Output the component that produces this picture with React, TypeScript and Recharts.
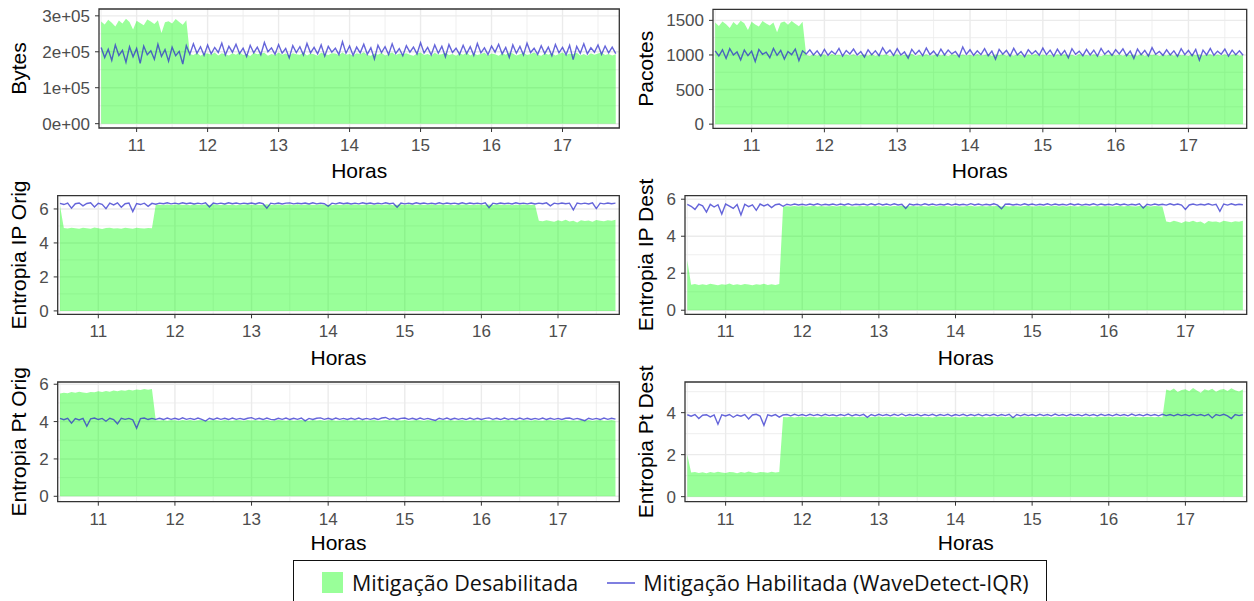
import React from 'react';
import {
  ComposedChart,
  Area,
  Line,
  XAxis,
  YAxis,
  CartesianGrid,
  ReferenceArea,
  Label,
} from 'recharts';

// Time axis, in hours of the day (one sample every 3 minutes)
const hours = [
  10.5, 10.55, 10.6, 10.65, 10.7, 10.75, 10.8, 10.85, 10.9, 10.95,
  11, 11.05, 11.1, 11.15, 11.2, 11.25, 11.3, 11.35, 11.4, 11.45,
  11.5, 11.55, 11.6, 11.65, 11.7, 11.75, 11.8, 11.85, 11.9, 11.95,
  12, 12.05, 12.1, 12.15, 12.2, 12.25, 12.3, 12.35, 12.4, 12.45,
  12.5, 12.55, 12.6, 12.65, 12.7, 12.75, 12.8, 12.85, 12.9, 12.95,
  13, 13.05, 13.1, 13.15, 13.2, 13.25, 13.3, 13.35, 13.4, 13.45,
  13.5, 13.55, 13.6, 13.65, 13.7, 13.75, 13.8, 13.85, 13.9, 13.95,
  14, 14.05, 14.1, 14.15, 14.2, 14.25, 14.3, 14.35, 14.4, 14.45,
  14.5, 14.55, 14.6, 14.65, 14.7, 14.75, 14.8, 14.85, 14.9, 14.95,
  15, 15.05, 15.1, 15.15, 15.2, 15.25, 15.3, 15.35, 15.4, 15.45,
  15.5, 15.55, 15.6, 15.65, 15.7, 15.75, 15.8, 15.85, 15.9, 15.95,
  16, 16.05, 16.1, 16.15, 16.2, 16.25, 16.3, 16.35, 16.4, 16.45,
  16.5, 16.55, 16.6, 16.65, 16.7, 16.75, 16.8, 16.85, 16.9, 16.95,
  17, 17.05, 17.1, 17.15, 17.2, 17.25, 17.3, 17.35, 17.4, 17.45,
  17.5, 17.55, 17.6, 17.65, 17.7, 17.75,
];

const hourTicks = [11, 12, 13, 14, 15, 16, 17];
const hourMinor = [10.5, 11.5, 12.5, 13.5, 14.5, 15.5, 16.5, 17.5];
const hourDomain: [number, number] = [10.47, 17.8];

// Bytes
const bytesOff = [
  284000, 276000, 289000, 281000, 270000, 287000, 279000, 292000, 283000, 262000,
  286000, 280000, 274000, 290000, 284000, 277000, 288000, 252000, 282000, 285000,
  279000, 291000, 283000, 275000, 288000, 194000, 191000, 197000, 189000, 195000,
  195000, 192000, 198000, 190000, 196000, 193000, 190000, 196000, 192000, 199000,
  191000, 194000, 188000, 197000, 193000, 195000, 197000, 189000, 194000, 191000,
  198000, 192000, 195000, 190000, 196000, 193000, 192000, 198000, 190000, 195000,
  193000, 189000, 197000, 194000, 191000, 196000, 195000, 191000, 198000, 192000,
  194000, 190000, 196000, 193000, 199000, 191000, 189000, 195000, 192000, 197000,
  190000, 194000, 198000, 191000, 195000, 193000, 196000, 192000, 189000, 195000,
  198000, 191000, 194000, 190000, 197000, 192000, 193000, 197000, 191000, 194000,
  189000, 196000, 192000, 198000, 190000, 195000, 191000, 194000, 197000, 190000,
  195000, 193000, 189000, 196000, 192000, 198000, 195000, 190000, 193000, 197000,
  191000, 194000, 198000, 192000, 189000, 196000, 192000, 196000, 190000, 194000,
  198000, 191000, 195000, 193000, 197000, 190000, 194000, 189000, 196000, 192000,
  195000, 198000, 191000, 194000, 190000, 193000,
];
const bytesOn = [
  212000, 184000, 207000, 176000, 219000, 190000, 204000, 171000, 214000, 186000,
  209000, 168000, 216000, 192000, 203000, 179000, 221000, 187000, 206000, 174000,
  213000, 189000, 201000, 166000, 217000, 193000, 222000, 196000, 214000, 190000,
  219000, 194000, 212000, 198000, 224000, 191000, 215000, 199000, 221000, 195000,
  210000, 187000, 218000, 197000, 213000, 192000, 226000, 200000, 211000, 193000,
  220000, 196000, 209000, 183000, 217000, 198000, 214000, 191000, 223000, 197000,
  212000, 194000, 219000, 188000, 215000, 199000, 210000, 192000, 228000, 196000,
  216000, 190000, 213000, 197000, 221000, 193000, 211000, 180000, 218000, 198000,
  214000, 192000, 222000, 195000, 209000, 189000, 217000, 199000, 213000, 194000,
  225000, 197000, 212000, 191000, 219000, 196000, 215000, 186000, 220000, 198000,
  210000, 193000, 218000, 195000, 214000, 190000, 223000, 197000, 211000, 192000,
  216000, 199000, 221000, 194000, 212000, 184000, 219000, 196000, 215000, 191000,
  224000, 198000, 210000, 193000, 217000, 195000, 213000, 189000, 220000, 197000,
  212000, 192000, 218000, 178000, 215000, 196000, 222000, 194000, 211000, 199000,
  219000, 193000, 216000, 197000, 213000, 195000,
];
const bytesTicks = [0, 100000, 200000, 300000];
const bytesMinor = [50000, 150000, 250000];

// Pacotes
const pktOff = [
  1470, 1420, 1485, 1445, 1390, 1475, 1430, 1495, 1460, 1360,
  1480, 1440, 1410, 1490, 1455, 1425, 1470, 1330, 1465, 1485,
  1435, 1490, 1450, 1415, 1480, 1000, 985, 1010, 990, 1005,
  1005, 980, 1015, 995, 1002, 988, 1008, 992, 1012, 984,
  998, 1006, 990, 1014, 986, 1003, 995, 1010, 982, 1000,
  1012, 989, 1004, 996, 1016, 985, 1001, 993, 1009, 987,
  997, 1013, 991, 1005, 983, 1011, 999, 988, 1007, 994,
  1003, 986, 1015, 992, 1000, 1010, 984, 1006, 996, 1013,
  990, 1004, 987, 1011, 998, 982, 1008, 995, 1014, 989,
  1006, 993, 1002, 985, 1012, 997, 1009, 991, 1004, 986,
  1015, 994, 1001, 988, 1010, 996, 983, 1007, 999, 1013,
  992, 1005, 987, 1011, 995, 1003, 990, 1016, 984, 1008,
  998, 1010, 986, 1004, 993, 1012, 989, 1006, 997, 1001,
  985, 1014, 996, 1008, 991, 1003, 1011, 988, 1005, 994,
  1009, 987, 1002, 1013, 990, 1000,
];
const pktOn = [
  1060, 985, 1075, 950, 1090, 1000, 1045, 930, 1070, 990,
  1055, 905, 1080, 1010, 1040, 960, 1095, 995, 1065, 940,
  1050, 1005, 1085, 920, 1060, 1015, 1075, 1000, 1060, 985,
  1080, 995, 1055, 1010, 1095, 985, 1065, 1015, 1085, 1000,
  1050, 970, 1075, 1005, 1060, 990, 1105, 1020, 1070, 995,
  1090, 1000, 1045, 955, 1080, 1010, 1065, 990, 1100, 1005,
  1055, 985, 1085, 1000, 1070, 1015, 1050, 975, 1115, 1010,
  1075, 995, 1060, 1005, 1090, 990, 1055, 940, 1080, 1010,
  1065, 985, 1095, 1000, 1050, 975, 1075, 1015, 1060, 995,
  1100, 1005, 1070, 985, 1085, 1000, 1065, 960, 1090, 1010,
  1055, 990, 1080, 1000, 1070, 985, 1095, 1010, 1060, 995,
  1075, 1015, 1090, 990, 1055, 950, 1085, 1005, 1065, 985,
  1105, 1010, 1050, 995, 1075, 1000, 1060, 980, 1090, 1005,
  1065, 990, 1080, 925, 1070, 1000, 1095, 995, 1055, 1010,
  1085, 985, 1070, 1005, 1060, 995,
];
const pktTicks = [0, 500, 1000, 1500];
const pktMinor = [250, 750, 1250];

// Entropia IP de origem
const ipOrigOff = [
  6.2, 4.88, 4.85, 4.9, 4.86, 4.83, 4.89, 4.87, 4.84, 4.91,
  4.86, 4.82, 4.88, 4.9, 4.85, 4.87, 4.83, 4.89, 4.86, 4.84,
  4.9, 4.87, 4.85, 4.88, 4.86, 6.25, 6.25, 6.24, 6.26, 6.23,
  6.25, 6.27, 6.24, 6.25, 6.22, 6.26, 6.25, 6.23, 6.26, 6.24,
  6.27, 6.25, 6.23, 6.26, 6.24, 6.25, 6.22, 6.26, 6.25, 6.27,
  6.24, 6.26, 6.23, 6.25, 6.27, 6.24, 6.25, 6.26, 6.22, 6.25,
  6.26, 6.24, 6.27, 6.23, 6.25, 6.26, 6.24, 6.25, 6.27, 6.23,
  6.25, 6.22, 6.26, 6.24, 6.25, 6.27, 6.23, 6.26, 6.25, 6.24,
  6.26, 6.25, 6.23, 6.27, 6.24, 6.25, 6.26, 6.22, 6.25, 6.26,
  6.24, 6.27, 6.25, 6.23, 6.26, 6.24, 6.25, 6.27, 6.23, 6.25,
  6.26, 6.24, 6.25, 6.22, 6.26, 6.25, 6.27, 6.24, 6.23, 6.26,
  6.25, 6.23, 6.26, 6.24, 6.27, 6.25, 6.24, 6.26, 6.22, 6.25,
  6.24, 6.26, 6.25, 6.23, 6.25, 5.3, 5.27, 5.34, 5.29, 5.24,
  5.33, 5.28, 5.36, 5.26, 5.31, 5.21, 5.34, 5.29, 5.32, 5.25,
  5.35, 5.3, 5.27, 5.33, 5.31, 5.36,
];
const ipOrigOn = [
  6.33, 6.26, 6.34, 6.05, 6.31, 6.35, 6.18, 6.32, 6.36, 6.12,
  6.33, 6.27, 6.02, 6.34, 6.24, 6.36, 6.1, 6.31, 6.35, 5.85,
  6.32, 6.26, 6.34, 6.15, 6.33, 6.28, 6.34, 6.31, 6.36, 6.3,
  6.34, 6.3, 6.36, 6.31, 6.35, 6.29, 6.34, 6.3, 6.36, 6.12,
  6.35, 6.3, 6.34, 6.29, 6.36, 6.31, 6.35, 6.3, 6.34, 6.31,
  6.35, 6.29, 6.36, 6.31, 6.05, 6.34, 6.3, 6.35, 6.29, 6.34,
  6.36, 6.3, 6.34, 6.31, 6.35, 6.29, 6.36, 6.3, 6.34, 6.31,
  6.16, 6.34, 6.3, 6.36, 6.31, 6.35, 6.29, 6.34, 6.3, 6.36,
  6.31, 6.35, 6.29, 6.34, 6.3, 6.36, 6.31, 6.34, 6.1, 6.35,
  6.3, 6.34, 6.29, 6.36, 6.31, 6.35, 6.3, 6.34, 6.29, 6.36,
  6.3, 6.35, 6.31, 6.34, 6.29, 6.36, 6.3, 6.35, 6.31, 6.34,
  6.3, 6.36, 6.08, 6.34, 6.3, 6.35, 6.31, 6.34, 6.29, 6.36,
  6.31, 6.34, 6.3, 6.35, 6.29, 6.34, 6.31, 6.36, 6.18, 6.34,
  6.3, 6.35, 6.31, 6.34, 5.95, 6.35, 6.3, 6.34, 6.29, 6.36,
  6.02, 6.34, 6.3, 6.35, 6.31, 6.34,
];

// Entropia IP de destino
const ipDestOff = [
  2.7, 1.38, 1.42, 1.36, 1.4, 1.37, 1.43, 1.39, 1.35, 1.41,
  1.38, 1.44, 1.36, 1.4, 1.37, 1.42, 1.39, 1.35, 1.41, 1.38,
  1.43, 1.37, 1.4, 1.36, 1.42, 5.61, 5.62, 5.6, 5.63, 5.61,
  5.64, 5.6, 5.62, 5.65, 5.61, 5.63, 5.6, 5.62, 5.64, 5.61,
  5.63, 5.65, 5.61, 5.62, 5.6, 5.64, 5.62, 5.63, 5.61, 5.65,
  5.62, 5.6, 5.64, 5.61, 5.63, 5.62, 5.65, 5.6, 5.62, 5.64,
  5.61, 5.63, 5.62, 5.6, 5.65, 5.61, 5.63, 5.64, 5.62, 5.6,
  5.64, 5.62, 5.61, 5.63, 5.65, 5.6, 5.62, 5.64, 5.61, 5.63,
  5.62, 5.65, 5.6, 5.63, 5.61, 5.64, 5.62, 5.6, 5.63, 5.65,
  5.61, 5.62, 5.64, 5.6, 5.63, 5.62, 5.65, 5.61, 5.63, 5.6,
  5.64, 5.62, 5.61, 5.65, 5.63, 5.6, 5.62, 5.64, 5.61, 5.63,
  5.62, 5.6, 5.64, 5.63, 5.61, 5.65, 5.62, 5.6, 5.63, 5.62,
  5.64, 5.61, 5.63, 5.62, 5.6, 4.8, 4.76, 4.83, 4.78, 4.72,
  4.81, 4.77, 4.84, 4.75, 4.79, 4.68, 4.82, 4.78, 4.8, 4.74,
  4.83, 4.79, 4.76, 4.81, 4.78, 4.84,
];
const ipDestOn = [
  5.72, 5.62, 5.45, 5.73, 5.64, 5.3, 5.72, 5.58, 5.7, 5.2,
  5.74, 5.63, 5.5, 5.71, 5.15, 5.73, 5.6, 5.69, 5.4, 5.74,
  5.64, 5.72, 5.55, 5.7, 5.74, 5.62, 5.73, 5.68, 5.74, 5.69,
  5.73, 5.68, 5.74, 5.69, 5.75, 5.68, 5.73, 5.69, 5.74, 5.68,
  5.74, 5.69, 5.75, 5.68, 5.73, 5.7, 5.74, 5.68, 5.75, 5.69,
  5.76, 5.69, 5.74, 5.68, 5.75, 5.69, 5.73, 5.5, 5.74, 5.69,
  5.73, 5.68, 5.75, 5.69, 5.74, 5.68, 5.73, 5.69, 5.75, 5.68,
  5.74, 5.69, 5.73, 5.68, 5.76, 5.69, 5.74, 5.68, 5.73, 5.69,
  5.75, 5.68, 5.48, 5.73, 5.74, 5.69, 5.73, 5.68, 5.75, 5.69,
  5.74, 5.68, 5.73, 5.69, 5.75, 5.68, 5.74, 5.69, 5.73, 5.68,
  5.75, 5.69, 5.74, 5.68, 5.73, 5.69, 5.75, 5.68, 5.74, 5.69,
  5.73, 5.68, 5.75, 5.69, 5.74, 5.68, 5.73, 5.69, 5.75, 5.52,
  5.73, 5.68, 5.74, 5.69, 5.73, 5.68, 5.75, 5.69, 5.74, 5.68,
  5.45, 5.69, 5.74, 5.68, 5.73, 5.69, 5.75, 5.68, 5.73, 5.35,
  5.74, 5.68, 5.75, 5.69, 5.73, 5.7,
];

// Entropia porta de origem
const ptOrigOff = [
  5.5, 5.55, 5.52, 5.58, 5.54, 5.6, 5.56, 5.53, 5.59, 5.57,
  5.62, 5.58, 5.64, 5.6, 5.66, 5.63, 5.68, 5.65, 5.7, 5.67,
  5.72, 5.69, 5.74, 5.71, 5.75, 4.07, 4.06, 4.08, 4.05, 4.09,
  4.07, 4.04, 4.08, 4.06, 4.09, 4.05, 4.07, 4.08, 4.04, 4.06,
  4.09, 4.07, 4.05, 4.08, 4.06, 4.04, 4.09, 4.07, 4.05, 4.08,
  4.06, 4.08, 4.04, 4.07, 4.09, 4.05, 4.06, 4.08, 4.07, 4.04,
  4.08, 4.05, 4.07, 4.09, 4.06, 4.04, 4.08, 4.06, 4.09, 4.05,
  4.07, 4.09, 4.04, 4.06, 4.08, 4.07, 4.05, 4.09, 4.06, 4.08,
  4.05, 4.07, 4.09, 4.04, 4.06, 4.08, 4.07, 4.05, 4.09, 4.06,
  4.08, 4.04, 4.06, 4.09, 4.07, 4.05, 4.08, 4.06, 4.04, 4.07,
  4.09, 4.06, 4.08, 4.05, 4.07, 4.09, 4.04, 4.06, 4.08, 4.05,
  4.07, 4.08, 4.05, 4.09, 4.06, 4.04, 4.07, 4.09, 4.05, 4.08,
  4.06, 4.09, 4.07, 4.04, 4.08, 4.06, 4.05, 4.09, 4.07, 4.04,
  4.08, 4.06, 4.09, 4.05, 4.07, 4.04, 4.08, 4.06, 4.09, 4.05,
  4.07, 4.09, 4.04, 4.06, 4.08, 4.05,
];
const ptOrigOn = [
  4.17, 4.1, 4.18, 3.92, 4.16, 4.09, 4.17, 3.75, 4.15, 4.19,
  4.11, 4.17, 4.02, 4.18, 4.11, 3.88, 4.18, 4.12, 4.17, 4.1,
  3.65, 4.16, 4.19, 4.11, 4.17, 4.12, 4.18, 4.11, 4.19, 4.12,
  4.18, 4.11, 4.2, 4.12, 4.17, 4.11, 4.19, 4.12, 4.03, 4.18,
  4.11, 4.19, 4.12, 4.18, 4.11, 4.19, 4.12, 4.17, 4.11, 4.18,
  4.21, 4.12, 4.18, 4.11, 4.19, 4.12, 4.1, 4.18, 4.12, 4.19,
  4.11, 4.18, 4.12, 4.19, 4.04, 4.17, 4.11, 4.18, 4.2, 4.12,
  4.18, 4.11, 4.19, 4.12, 4.17, 4.11, 4.18, 4.12, 4.19, 4.11,
  4.17, 4.12, 4.18, 4.11, 4.19, 4.22, 4.12, 4.18, 4.11, 4.17,
  4.19, 4.12, 4.18, 4.11, 4.19, 4.12, 4.17, 4.11, 4.06, 4.18,
  4.12, 4.19, 4.11, 4.18, 4.12, 4.17, 4.11, 4.19, 4.12, 4.18,
  4.11, 4.17, 4.2, 4.12, 4.18, 4.11, 4.19, 4.12, 4.17, 4.11,
  4.19, 4.12, 4.18, 4.11, 4.17, 4.12, 4.19, 4.11, 4.18, 4.12,
  4.17, 4.11, 4.18, 4.19, 4.12, 4.17, 4.11, 4.05, 4.18, 4.12,
  4.17, 4.11, 4.19, 4.12, 4.18, 4.13,
];

// Entropia porta de destino
const ptDestOff = [
  2.0, 1.15, 1.18, 1.13, 1.16, 1.12, 1.17, 1.14, 1.19, 1.15,
  1.13, 1.18, 1.16, 1.12, 1.17, 1.14, 1.2, 1.15, 1.13, 1.18,
  1.16, 1.14, 1.19, 1.15, 1.17, 3.79, 3.78, 3.8, 3.77, 3.81,
  3.8, 3.78, 3.81, 3.79, 3.77, 3.8, 3.82, 3.78, 3.79, 3.81,
  3.77, 3.8, 3.79, 3.82, 3.78, 3.8, 3.81, 3.77, 3.79, 3.8,
  3.82, 3.78, 3.8, 3.79, 3.81, 3.77, 3.8, 3.78, 3.82, 3.79,
  3.8, 3.81, 3.78, 3.79, 3.77, 3.82, 3.8, 3.79, 3.81, 3.78,
  3.79, 3.77, 3.81, 3.8, 3.78, 3.82, 3.79, 3.8, 3.77, 3.81,
  3.8, 3.79, 3.82, 3.78, 3.8, 3.81, 3.77, 3.79, 3.82, 3.8,
  3.78, 3.81, 3.79, 3.8, 3.82, 3.77, 3.8, 3.79, 3.81, 3.78,
  3.82, 3.79, 3.8, 3.78, 3.81, 3.8, 3.77, 3.82, 3.79, 3.8,
  3.81, 3.78, 3.8, 3.79, 3.82, 3.77, 3.81, 3.8, 3.78, 3.79,
  3.79, 3.81, 3.78, 3.8, 3.77, 5.1, 5.04, 5.15, 4.98, 5.08,
  5.12, 5.02, 5.17, 5.06, 4.95, 5.11, 5.05, 5.14, 5.0, 5.09,
  5.13, 5.03, 5.16, 5.07, 5.01, 5.1,
];
const ptDestOn = [
  3.9, 3.83, 3.91, 3.72, 3.88, 3.9, 3.8, 3.89, 3.45, 3.9,
  3.84, 3.91, 3.78, 3.89, 3.83, 3.91, 3.7, 3.89, 3.92, 3.84,
  3.4, 3.9, 3.84, 3.91, 3.79, 3.89, 3.91, 3.85, 3.92, 3.86,
  3.91, 3.85, 3.92, 3.86, 3.91, 3.85, 3.92, 3.86, 3.9, 3.85,
  3.91, 3.86, 3.93, 3.85, 3.91, 3.86, 3.92, 3.78, 3.91, 3.85,
  3.92, 3.86, 3.91, 3.85, 3.92, 3.86, 3.94, 3.85, 3.91, 3.86,
  3.92, 3.85, 3.91, 3.86, 3.92, 3.85, 3.91, 3.86, 3.92, 3.84,
  3.91, 3.86, 3.92, 3.85, 3.91, 3.86, 3.92, 3.85, 3.91, 3.86,
  3.92, 3.85, 3.91, 3.86, 3.92, 3.76, 3.91, 3.85, 3.92, 3.86,
  3.91, 3.85, 3.92, 3.86, 3.91, 3.85, 3.93, 3.86, 3.91, 3.85,
  3.92, 3.86, 3.91, 3.85, 3.92, 3.86, 3.91, 3.85, 3.92, 3.86,
  3.91, 3.85, 3.92, 3.86, 3.91, 3.85, 3.93, 3.86, 3.91, 3.85,
  3.92, 3.86, 3.91, 3.85, 3.92, 3.86, 3.91, 3.85, 3.92, 3.86,
  3.91, 3.85, 3.92, 3.86, 3.91, 3.85, 3.92, 3.75, 3.91, 3.86,
  3.92, 3.85, 3.72, 3.91, 3.86, 3.9,
];

const entropyTicks = [0, 2, 4, 6];
const entropyMinor = [1, 3, 5];
const ptDestTicks = [0, 2, 4];

const AREA_FILL = '#00ff00';
const LINE_STROKE = '#2a2acc';
const TICK_STYLE = { fill: '#4d4d4d', fontSize: 17 };

// R-style scientific labels: 2e+05, 0e+00
function sci(v: number) {
  if (v === 0) return '0e+00';
  const e = Math.floor(Math.log10(Math.abs(v)));
  return `${Math.round(v / 10 ** e)}e+${String(e).padStart(2, '0')}`;
}

interface PanelProps {
  box: { x: number; y: number; w: number; h: number };
  plot: { left: number; top: number; right: number; bottom: number };
  off: number[];
  on: number[];
  yDomain: [number, number];
  yTicks: number[];
  yMinor: number[];
  yTitle: string;
  titleOffset: number;
  tickFormat?: (v: number) => string;
}

function Panel({ box, plot, off, on, yDomain, yTicks, yMinor, yTitle, titleOffset, tickFormat }: PanelProps) {
  const rows = hours.map((h, i) => ({ hora: h, off: off[i], on: on[i] }));
  return (
    <div style={{ position: 'absolute', left: box.x, top: box.y }}>
      <ComposedChart
        width={box.w}
        height={box.h}
        data={rows}
        margin={{ top: plot.top - box.y, right: box.x + box.w - plot.right, bottom: 0, left: 0 }}
      >
        <CartesianGrid stroke="#ebebeb" strokeWidth={0.8} horizontalValues={yMinor} verticalValues={hourMinor} />
        <CartesianGrid stroke="#ebebeb" strokeWidth={1.4} horizontalValues={yTicks} verticalValues={hourTicks} />
        <XAxis
          dataKey="hora"
          type="number"
          domain={hourDomain}
          ticks={hourTicks}
          interval={0}
          allowDataOverflow
          height={box.y + box.h - plot.bottom}
          axisLine={false}
          tickLine={{ stroke: '#333333' }}
          tickSize={4}
          tickMargin={7}
          tick={TICK_STYLE}
        >
          <Label value="Horas" position="insideBottom" offset={7} fill="#000000" fontSize={21} />
        </XAxis>
        <YAxis
          type="number"
          domain={yDomain}
          ticks={yTicks}
          interval={0}
          allowDataOverflow
          width={plot.left - box.x}
          axisLine={false}
          tickLine={{ stroke: '#333333' }}
          tickSize={4}
          tickMargin={5}
          tick={TICK_STYLE}
          tickFormatter={tickFormat}
        >
          <Label
            value={yTitle}
            angle={-90}
            position="insideLeft"
            offset={titleOffset}
            fill="#000000"
            fontSize={21}
            style={{ textAnchor: 'middle' }}
          />
        </YAxis>
        <Area
          dataKey="off"
          type="linear"
          fill={AREA_FILL}
          fillOpacity={0.4}
          stroke="none"
          baseValue={0}
          isAnimationActive={false}
        />
        <Line
          dataKey="on"
          type="linear"
          stroke={LINE_STROKE}
          strokeOpacity={0.72}
          strokeWidth={1.4}
          dot={false}
          isAnimationActive={false}
        />
        <ReferenceArea
          x1={hourDomain[0]}
          x2={hourDomain[1]}
          y1={yDomain[0]}
          y2={yDomain[1]}
          fill="none"
          stroke="#333333"
          strokeWidth={1.3}
        />
      </ComposedChart>
    </div>
  );
}

export default function App() {
  return (
    <div
      style={{
        position: 'absolute',
        left: 0,
        top: 0,
        width: 1254,
        height: 601,
        overflow: 'hidden',
        background: '#ffffff',
        fontFamily: '"Liberation Sans", Arial, sans-serif',
      }}
    >
      <Panel
        box={{ x: 0, y: 0, w: 630, h: 185 }}
        plot={{ left: 99, top: 9, right: 619.3, bottom: 128 }}
        off={bytesOff}
        on={bytesOn}
        yDomain={[-12000, 319000]}
        yTicks={bytesTicks}
        yMinor={bytesMinor}
        yTitle="Bytes"
        titleOffset={19}
        tickFormat={sci}
      />
      <Panel
        box={{ x: 630, y: 0, w: 624, h: 185 }}
        plot={{ left: 713, top: 9.3, right: 1246.7, bottom: 128.3 }}
        off={pktOff}
        on={pktOn}
        yDomain={[-60, 1660]}
        yTicks={pktTicks}
        yMinor={pktMinor}
        yTitle="Pacotes"
        titleOffset={15.5}
      />
      <Panel
        box={{ x: 0, y: 175, w: 630, h: 197 }}
        plot={{ left: 57.7, top: 195.7, right: 619.3, bottom: 314.3 }}
        off={ipOrigOff}
        on={ipOrigOn}
        yDomain={[-0.2, 6.78]}
        yTicks={entropyTicks}
        yMinor={entropyMinor}
        yTitle="Entropia IP Orig"
        titleOffset={19}
      />
      <Panel
        box={{ x: 630, y: 175, w: 624, h: 197 }}
        plot={{ left: 685, top: 195.7, right: 1246.7, bottom: 314.3 }}
        off={ipDestOff}
        on={ipDestOn}
        yDomain={[-0.22, 6.19]}
        yTicks={entropyTicks}
        yMinor={entropyMinor}
        yTitle="Entropia IP Dest"
        titleOffset={15.5}
      />
      <Panel
        box={{ x: 0, y: 360, w: 630, h: 197 }}
        plot={{ left: 57.7, top: 382, right: 619.3, bottom: 501.7 }}
        off={ptOrigOff}
        on={ptOrigOn}
        yDomain={[-0.29, 6.12]}
        yTicks={entropyTicks}
        yMinor={entropyMinor}
        yTitle="Entropia Pt Orig"
        titleOffset={19}
      />
      <Panel
        box={{ x: 630, y: 360, w: 624, h: 197 }}
        plot={{ left: 685, top: 382, right: 1246.7, bottom: 501.7 }}
        off={ptDestOff}
        on={ptDestOn}
        yDomain={[-0.24, 5.46]}
        yTicks={ptDestTicks}
        yMinor={entropyMinor}
        yTitle="Entropia Pt Dest"
        titleOffset={15.5}
      />

      {/* Shared legend */}
      <div
        style={{
          position: 'absolute',
          left: 293,
          top: 560,
          width: 754,
          height: 50,
          border: '1.5px solid #111111',
          boxSizing: 'border-box',
          display: 'flex',
          alignItems: 'flex-start',
          paddingLeft: 28,
          paddingTop: 11,
          fontFamily: '"Open Sans", Lato, sans-serif',
          fontSize: 21.5,
          color: '#111111',
        }}
      >
        <span style={{ width: 21, height: 21, background: AREA_FILL, opacity: 0.4, marginRight: 9, flexShrink: 0 }} />
        <span style={{ lineHeight: '21px', whiteSpace: 'nowrap' }}>Mitigação Desabilitada</span>
        <span
          style={{
            width: 28,
            height: 2,
            marginTop: 10,
            marginLeft: 29,
            marginRight: 8,
            background: LINE_STROKE,
            opacity: 0.6,
            flexShrink: 0,
          }}
        />
        <span style={{ lineHeight: '21px', whiteSpace: 'nowrap' }}>Mitigação Habilitada (WaveDetect-IQR)</span>
      </div>
    </div>
  );
}
